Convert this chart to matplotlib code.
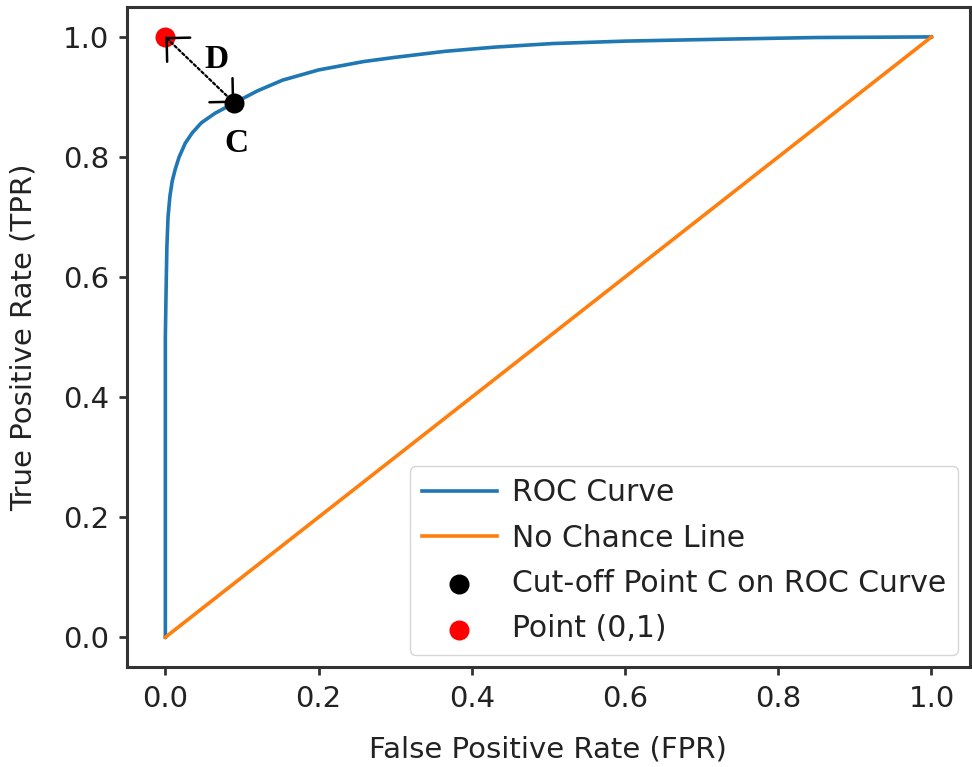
import numpy as np
import matplotlib.pyplot as plt

# ROC curve
fpr = [0.0, 0.0, 0.0, 0.0, 0.001, 0.002, 0.0035, 0.006, 0.009, 0.013, 0.018, 0.026, 0.035,
       0.047, 0.065, 0.09, 0.12, 0.153, 0.2, 0.259, 0.3, 0.365, 0.43, 0.506, 0.6, 0.718, 0.85, 1.0]
tpr = [0.0, 0.2, 0.4, 0.5, 0.58, 0.65, 0.70, 0.735, 0.76, 0.78, 0.80, 0.823, 0.84,
       0.857, 0.873, 0.89, 0.91, 0.928, 0.945, 0.959, 0.966, 0.976, 0.983, 0.989, 0.993, 0.996, 0.999, 1.0]

# no chance line
chance_x = [0.0, 1.0]
chance_y = [0.0, 1.0]

# cut-off point C and the ideal point
cut_x, cut_y = 0.09, 0.89
ideal_x, ideal_y = 0.0, 1.0

fig = plt.figure(figsize=(9.72, 7.67), dpi=100)
ax = fig.add_axes([0.1307, 0.130, 0.867, 0.861])

ax.plot(fpr, tpr, color='#1f77b4', lw=2.6, label='ROC Curve')
ax.plot(chance_x, chance_y, color='#ff7f0e', lw=2.6, label='No Chance Line')
ax.scatter([cut_x], [cut_y], color='black', s=180, zorder=3, label='Cut-off Point C on ROC Curve')
ax.scatter([ideal_x], [ideal_y], color='red', s=180, zorder=3, label='Point (0,1)')

# distance D between C and (0,1): dotted shaft, solid heads
ax.annotate('', xy=(ideal_x, ideal_y), xytext=(cut_x, cut_y),
            arrowprops=dict(arrowstyle='-', linestyle=(0, (1.2, 1.2)), color='black', lw=1.6,
                            shrinkA=0, shrinkB=0), zorder=4)
for (px, py), (qx, qy) in [((ideal_x, ideal_y), (cut_x, cut_y)), ((cut_x, cut_y), (ideal_x, ideal_y))]:
    ax.annotate('', xy=(px, py), xytext=(px + 0.02 * (qx - px), py + 0.02 * (qy - py)),
                arrowprops=dict(arrowstyle='->,head_length=0.4,head_width=0.4',
                                mutation_scale=30, color='black', lw=1.8,
                                shrinkA=0, shrinkB=0), zorder=4)

ax.text(0.067, 0.963, 'D', family='Liberation Serif', fontweight='bold', fontsize=24,
        ha='center', va='center')
ax.text(0.0925, 0.823, 'C', family='Liberation Serif', fontweight='bold', fontsize=24,
        ha='center', va='center')

ax.set_xlabel('False Positive Rate (FPR)', fontsize=21, color='#222222', labelpad=16)
ax.set_ylabel('True Positive Rate (TPR)', fontsize=21, color='#222222', labelpad=18)
ax.tick_params(labelsize=21, width=2, length=6, pad=7, color='#333333', labelcolor='#222222')
for s in ax.spines.values():
    s.set_linewidth(2.2)
    s.set_color('#333333')

leg = ax.legend(loc='lower right', fontsize=21.5, handlelength=2.5, borderpad=0.4,
                labelspacing=0.55, handletextpad=0.5, borderaxespad=0.4)
for t in leg.get_texts():
    t.set_color('#222222')

fig.savefig('out.png', dpi=100)
